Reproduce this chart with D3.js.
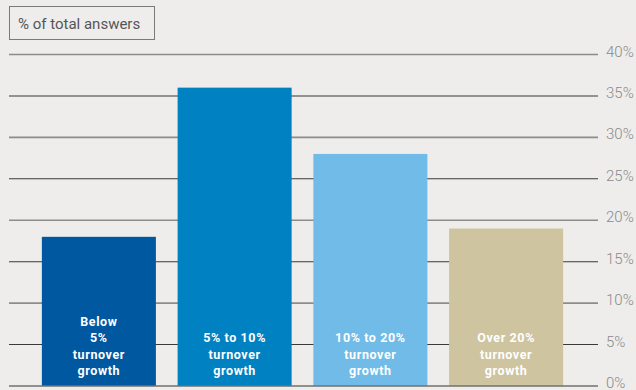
<!DOCTYPE html>
<html>
<head>
<meta charset="utf-8">
<script src="https://cdn.jsdelivr.net/npm/d3@7/dist/d3.min.js"></script>
<style>
  html, body { margin: 0; padding: 0; background: #eeedeb; }
  svg { display: block; }
</style>
</head>
<body>
<svg id="chart" width="636" height="390"></svg>
<script>
// Share of answers by expected turnover growth
const categories = [
  ["Below", "5%", "turnover", "growth"],
  ["5% to 10%", "turnover", "growth"],
  ["10% to 20%", "turnover", "growth"],
  ["Over 20%", "turnover", "growth"]
];
const values = [18, 36, 28, 19];
const barColors = ["#0058a0", "#0081c1", "#70bbe7", "#cec4a0"];
const tickValues = [0, 5, 10, 15, 20, 25, 30, 35, 40];
const tickLabels = ["0%", "5%", "10%", "15%", "20%", "25%", "30%", "35%", "40%"];
const axisTitle = "% of total answers";

const svg = d3.select("#chart");
const font = "Roboto, 'DejaVu Sans', sans-serif";

const y = d3.scaleLinear().domain([0, 40]).range([386, 54.5]);
const x = d3.scaleBand()
  .domain(d3.range(categories.length))
  .range([31, 574])
  .paddingInner(0.16)
  .paddingOuter(0.08);

const gridX0 = 9, gridX1 = 598;

// Horizontal grid: even tens in grey, intermediate fives in dark
const grid = svg.append("g");
grid.selectAll("line")
  .data(tickValues.filter(v => v > 0))
  .join("line")
  .attr("x1", gridX0).attr("x2", gridX1)
  .attr("y1", d => y(d)).attr("y2", d => y(d))
  .attr("stroke", d => d % 10 === 0 ? "#8c8c8c" : "#3a3a3a")
  .attr("stroke-width", d => d % 10 === 0 ? 1.6 : 1.1);

// Tick labels on the right
svg.append("g").selectAll("text")
  .data(tickValues)
  .join("text")
  .attr("x", 606)
  .attr("y", d => y(d) + 2)
  .attr("font-family", font)
  .attr("font-weight", 300)
  .attr("font-size", 15)
  .attr("fill", "#8a8a8a")
  .text((d, i) => tickLabels[i]);

// Bars
svg.append("g").selectAll("rect")
  .data(values)
  .join("rect")
  .attr("x", (d, i) => x(i))
  .attr("width", x.bandwidth())
  .attr("y", d => y(d))
  .attr("height", d => y(0) - y(d))
  .attr("fill", (d, i) => barColors[i]);

// Category labels inside bars, bottom-aligned
const lineH = 16.3;
const labels = svg.append("g");
categories.forEach((lines, i) => {
  const cx = x(i) + x.bandwidth() / 2;
  const t = labels.append("text")
    .attr("text-anchor", "middle")
    .attr("font-family", font)
    .attr("font-weight", 700)
    .attr("font-size", 12.5)
    .attr("letter-spacing", 0.6)
    .attr("fill", "#ffffff");
  lines.forEach((s, j) => {
    t.append("tspan")
      .attr("x", cx)
      .attr("y", 375 - (lines.length - 1 - j) * lineH)
      .text(s);
  });
});

// Baseline drawn over the bars
svg.append("line")
  .attr("x1", gridX0).attr("x2", gridX1)
  .attr("y1", y(0)).attr("y2", y(0))
  .attr("stroke", "#707070")
  .attr("stroke-opacity", 0.75)
  .attr("stroke-width", 2);

// Axis title box
const title = svg.append("g");
title.append("rect")
  .attr("x", 9.5).attr("y", 6.5)
  .attr("width", 145).attr("height", 33)
  .attr("fill", "none")
  .attr("stroke", "#7a7a7a")
  .attr("stroke-width", 1);
title.append("text")
  .attr("x", 18).attr("y", 29)
  .attr("font-family", font)
  .attr("font-size", 15)
  .attr("fill", "#555555")
  .text(axisTitle);
</script>
</body>
</html>
